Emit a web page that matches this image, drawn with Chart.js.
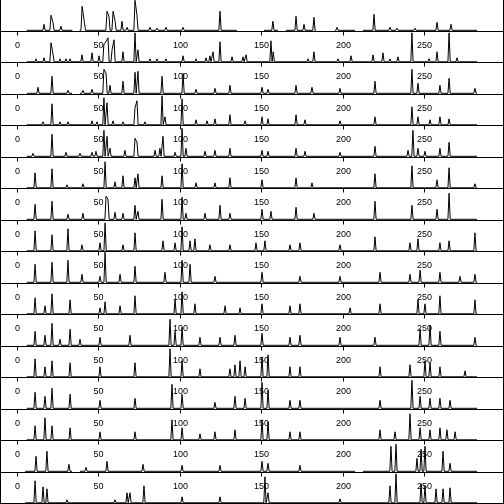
<!DOCTYPE html>
<html><head><meta charset="utf-8">
<script src="https://cdn.jsdelivr.net/npm/chart.js@4/dist/chart.umd.min.js"></script>
<style>html,body{margin:0;padding:0;background:#fff}canvas{display:block}</style>
</head><body>
<canvas id="c" width="504" height="504"></canvas>
<script>
// x-axis tick labels
const tickLabels = [0, 50, 100, 150, 200, 250];

// Each trace: runs = continuous stretches [from, to]; peaks = [position, height]
const runs01 = [[6,34],[38.5,135],[151.7,160.3],[165.2,183.7],[195.3,207.6],[212.5,282.6]];
const peaks01 = [[16.6,6],[20.9,15],[22.1,8],[27,4],[40,24],[41.4,8],[55.3,19],[56.5,14],[59,19],[60.2,10],[64.5,9],[67.6,3],[72.5,30],[73.7,15],[81.7,3],[86,2],[91.5,3],[102,3],[124.7,19],[157.2,9],[171.4,14],[176.3,6],[182.4,13],[196.6,3],[219.3,16],[229.1,3],[233.4,2],[244.5,2],[258,8],[266.6,6]];

const runs02 = [[6,282.6]];
const peaks02 = [[11.7,3],[16.6,4],[20.9,19],[22.1,8],[26.4,3],[30.1,3],[32.6,3],[39.9,7],[46.1,9],[50.4,6],[53.4,18],[54.7,20],[55.9,24],[58.4,12],[59.6,22],[65.1,10],[72.5,29],[74.3,12],[81.7,3],[86,3],[91.5,3],[102,6],[110,3],[116.1,4],[118.5,6],[120.4,10],[124.7,20],[132.1,5],[138.8,5],[140.7,7],[156,21],[157.4,10],[178.8,3],[182.4,10],[197.2,3],[205.2,6],[218.7,7],[224.8,9],[229.1,3],[234,5],[242.6,29],[253.1,3],[258,10],[265.4,29],[270.3,4]];

const runs03 = [[6,33.8],[38.7,282.6]];
const peaks03 = [[12.9,6],[21.5,17],[31.3,3],[40.5,3],[46.1,4],[53.4,24],[54.7,20],[57.1,8],[65.1,12],[72.5,21],[74.3,22],[89.1,17],[102,20],[110,4],[121.6,5],[130.8,8],[150.5,6],[154.2,4],[171.4,8],[181.2,6],[198.4,5],[219.9,12],[242.6,24],[246.3,10],[259.8,8],[265.4,15],[281.3,5]];

const runs04 = [[6,282.6]];
const peaks04 = [[16,3],[21.5,21],[26.4,3],[31.3,3],[46.1,4],[49.1,3],[53.4,27],[55.3,22],[59,4],[65.1,3],[72.5,17],[73.7,24],[78.6,3],[89.1,29],[90.9,8],[101.4,26],[110,5],[116.7,4],[121.6,6],[130.8,10],[140.1,4],[150.5,8],[154.2,6],[171.4,10],[176.9,5],[198.4,4],[219.9,8],[242.6,18],[246.3,8],[253.7,5],[259.8,8],[265.4,6]];

const runs05 = [[6,282.6]];
const peaks05 = [[9.8,3],[21.5,22],[30.1,4],[38.7,3],[46.1,4],[48.5,5],[53.4,26],[55.3,20],[57.1,8],[66.3,6],[72.5,18],[73.7,14],[84.8,6],[87.8,8],[89.7,20],[97.1,4],[101.4,28],[103.8,8],[115.5,5],[121.6,6],[130.8,8],[150.5,6],[154.2,5],[171.4,8],[176.9,5],[198.4,4],[219.9,10],[240.2,6],[243.2,26],[246.3,8],[250.6,5],[259.8,8],[265.4,14]];

const runs06 = [[6,282.6]];
const peaks06 = [[11.1,15],[21.5,19],[30.7,3],[40.5,4],[54.1,26],[60.2,6],[65.1,12],[72.5,10],[74.3,14],[89.1,12],[101.4,24],[110,5],[121.6,5],[130.8,10],[150.5,8],[171.4,10],[181.2,5],[219.9,14],[242.6,22],[258,8],[265.4,20],[281.3,4]];

const runs07 = [[6,282.6]];
const peaks07 = [[11.1,15],[21.5,18],[31.3,5],[40.5,6],[54.7,23],[55.9,20],[60.2,7],[65.1,6],[72.5,14],[74.3,8],[89.1,20],[101.4,22],[103.8,6],[115.5,6],[124.7,14],[130.8,6],[150.5,10],[156,8],[171.4,12],[182.4,6],[219.9,18],[242.6,14],[258,10],[265.4,26]];

const runs08 = [[6,282.6]];
const peaks08 = [[11.1,20],[21.5,16],[31.3,22],[39.9,6],[51,8],[54.1,28],[65.1,6],[72.5,18],[89.7,10],[97.1,8],[101.4,24],[106.3,10],[109.3,12],[118.5,6],[130.8,6],[146.8,8],[152.3,10],[167.7,6],[173.8,8],[198.4,6],[219.9,14],[241.4,8],[246.3,12],[259.8,8],[265.4,10],[281.3,18]];

const runs09 = [[6,282.6]];
const peaks09 = [[11.1,18],[21.5,20],[31.3,22],[39.9,8],[51,6],[54.1,30],[63.3,8],[72.5,16],[90.9,10],[101.4,22],[106.3,18],[121.6,6],[150.5,10],[173.8,6],[198.4,6],[223,10],[241.4,8],[247.6,12],[259.8,10],[272.1,6],[281.3,8]];

const runs10 = [[6,282.6]];
const peaks10 = [[11.1,16],[17.2,8],[21.5,20],[32.6,14],[51,6],[54.1,12],[63.3,8],[72.5,18],[97.1,14],[101.4,22],[109.3,10],[127.8,8],[137,6],[150.5,10],[167.7,8],[173.8,10],[204.6,6],[223,10],[246.3,14],[250.6,10],[259.8,18],[281.3,14]];

const runs11 = [[6,282.6]];
const peaks11 = [[11.1,14],[17.2,10],[21.5,22],[26.4,6],[32.6,16],[38.7,6],[51,8],[69.4,10],[94,26],[97.1,14],[101.4,18],[112.4,8],[124.7,8],[133.9,10],[150.5,12],[167.7,8],[173.8,10],[198.4,8],[219.9,8],[247.6,16],[253.7,20],[259.8,14],[281.3,8]];

const runs12 = [[6,282.6]];
const peaks12 = [[11.1,18],[17.2,10],[21.5,16],[32.6,14],[51,10],[72.5,14],[94,28],[101.4,16],[112.4,8],[130.8,8],[133.9,12],[137,16],[140.1,10],[150.5,20],[154.2,22],[167.7,10],[173.8,10],[223,10],[241.4,12],[250.6,16],[253.7,14],[259.8,10],[275.2,6]];

const runs13 = [[6,282.6]];
const peaks13 = [[11.1,16],[17.2,12],[21.5,20],[32.6,14],[51,8],[72.5,10],[95.2,24],[101.4,14],[121.6,6],[133.9,12],[140.1,10],[150.5,26],[154.2,18],[167.7,8],[173.8,8],[223,8],[242.6,28],[247.6,12],[253.7,10],[259.8,10],[266,8]];

const runs14 = [[6,282.6]];
const peaks14 = [[11.1,14],[17.2,22],[21.5,14],[32.6,12],[51,8],[72.5,8],[95.2,20],[101.4,12],[112.4,6],[121.6,8],[133.9,10],[150.5,20],[154.2,18],[167.7,8],[173.8,8],[223,10],[232.2,8],[241.4,26],[247.6,12],[253.7,10],[259.8,12],[264.1,10],[269.1,8]];

const runs15 = [[5,33.8],[38.7,207.6],[212.5,282.6]];
const peaks15 = [[11.7,15],[18.4,20],[31.9,7],[42.4,4],[55.3,10],[77.4,7],[101.4,6],[124.7,6],[150.5,10],[154.2,8],[173.8,6],[229.7,25],[232.8,27],[245.7,13],[248.2,22],[250.6,25],[261.7,20],[266,8]];

const runs16 = [[5,282.6]];
const peaks16 = [[11.1,22],[16,16],[18.4,14],[30.7,3],[60.2,3],[67.6,10],[69.4,10],[78,17],[101.4,6],[124.7,6],[152.3,26],[154.2,10],[198.4,4],[229.1,17],[232.8,29],[248.2,19],[250.6,17],[257.4,14],[261.7,14],[266,15]];

const allRuns = [runs01,runs02,runs03,runs04,runs05,runs06,runs07,runs08,runs09,runs10,runs11,runs12,runs13,runs14,runs15,runs16];
const allPeaks = [peaks01,peaks02,peaks03,peaks04,peaks05,peaks06,peaks07,peaks08,peaks09,peaks10,peaks11,peaks12,peaks13,peaks14,peaks15,peaks16];

const ROWS = 16, ROW_H = 31.5, TOTAL = ROWS * ROW_H;
const HALF = 0.7; // spike half-width (x units)

function buildTrace(runs, peaks, r) {
  const base = TOTAL - ROW_H * (r + 1) + 1.2;
  const pts = [];
  runs.forEach(([a, b]) => {
    const inside = peaks.filter(p => p[0] >= a && p[0] <= b).sort((p, q) => p[0] - q[0]);
    pts.push({x: a, y: base});
    inside.forEach(([x, h], i) => {
      const prev = inside[i - 1], next = inside[i + 1];
      if (!prev || x - prev[0] > 2 * HALF) pts.push({x: Math.max(a, x - HALF), y: base});
      pts.push({x: x, y: base + h});
      if (!next || next[0] - x > 2 * HALF) pts.push({x: Math.min(b, x + HALF), y: base});
    });
    pts.push({x: b, y: base});
    pts.push({x: b + 0.05, y: null});
  });
  return pts;
}

const datasets = allRuns.map((runs, r) => ({
  data: buildTrace(runs, allPeaks[r], r),
  borderColor: '#000', borderWidth: 1, pointRadius: 0, tension: 0,
  fill: false, spanGaps: false, clip: false
}));

const framePlugin = {
  id: 'frame',
  beforeDatasetsDraw(chart) {
    const ctx = chart.ctx, xs = chart.scales.x, ys = chart.scales.y;
    ctx.save();
    ctx.strokeStyle = '#000'; ctx.lineWidth = 1;
    ctx.fillStyle = '#000';
    ctx.font = '9px "Liberation Sans", Arial, sans-serif';
    ctx.textAlign = 'center'; ctx.textBaseline = 'middle';
    for (let r = 0; r < ROWS; r++) {
      const yv = TOTAL - ROW_H * (r + 1);
      const yp = Math.round(ys.getPixelForValue(yv)) - 0.5;
      ctx.beginPath(); ctx.moveTo(0, yp); ctx.lineTo(chart.width, yp); ctx.stroke();
      tickLabels.forEach(t => {
        const xp = Math.round(xs.getPixelForValue(t)) + 0.5;
        ctx.beginPath(); ctx.moveTo(xp, yp); ctx.lineTo(xp, yp + 4); ctx.stroke();
        ctx.fillText(String(t), xp, yp + 14);
      });
    }
    ctx.beginPath(); ctx.moveTo(0.5, 0); ctx.lineTo(0.5, chart.height);
    ctx.moveTo(chart.width - 0.5, 0); ctx.lineTo(chart.width - 0.5, chart.height); ctx.stroke();
    ctx.restore();
  }
};

new Chart(document.getElementById('c'), {
  type: 'line',
  data: {datasets},
  options: {
    responsive: false, animation: false, parsing: true,
    layout: {padding: 0},
    plugins: {legend: {display: false}, tooltip: {enabled: false}},
    scales: {
      x: {type: 'linear', min: -10.44, max: 299.14, display: false},
      y: {type: 'linear', min: 0, max: TOTAL, display: false}
    }
  },
  plugins: [framePlugin]
});
</script>
</body></html>
